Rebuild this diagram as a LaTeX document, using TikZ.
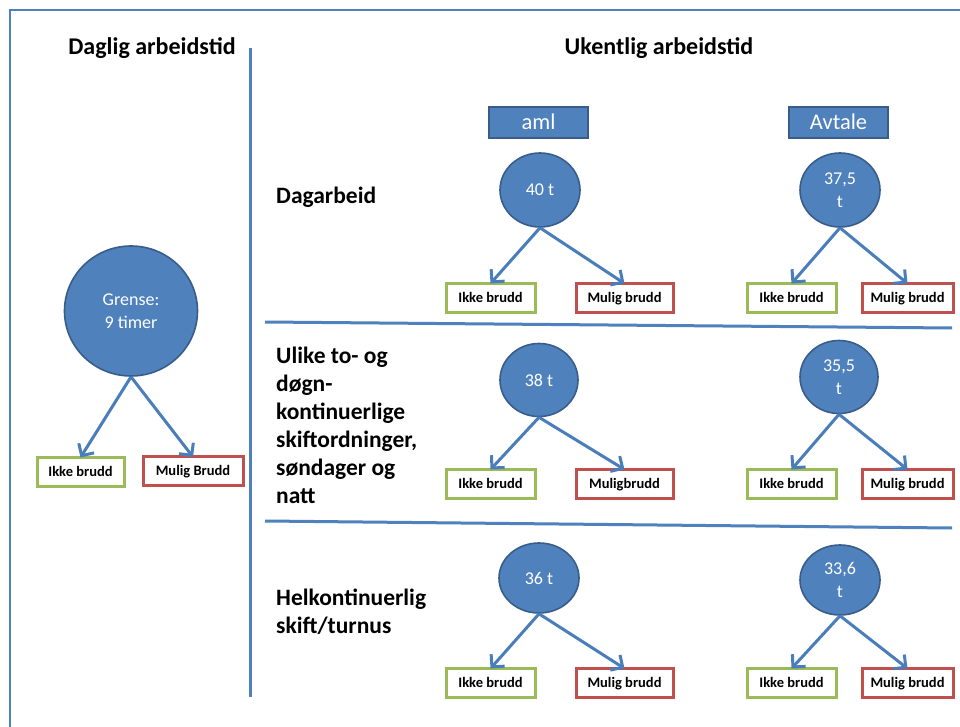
\documentclass[tikz,border=0pt]{standalone}
\usepackage{fontspec}
\setmainfont{Carlito}
\usetikzlibrary{shapes.geometric,arrows.meta}
\definecolor{fillblue}{HTML}{4F81BD}
\definecolor{darkblue}{HTML}{385D8A}
\definecolor{lineblue}{HTML}{4A7EBB}
\definecolor{okgreen}{HTML}{9BBB59}
\definecolor{badred}{HTML}{C0504D}
\tikzset{
  circ/.style={ellipse, fill=fillblue, draw=darkblue, line width=1.6pt, text=white,
    font=\fontsize{18}{23}\selectfont, inner sep=0pt, align=center},
  hdrbox/.style={rectangle, fill=fillblue, draw=darkblue, line width=1.6pt, text=white,
    minimum width=99pt, minimum height=31pt, inner sep=0pt, text height=15pt, text depth=1pt,
    font=\fontsize{22.5}{26}\selectfont},
  okbox/.style={rectangle, draw=okgreen, fill=white, line width=3pt, minimum height=29pt,
    inner sep=0pt, text height=12pt, text depth=3pt, font=\bfseries\fontsize{14.5}{17}\selectfont},
  badbox/.style={okbox, draw=badred},
  arr/.style={draw=lineblue, line width=3pt, -{Straight Barb[length=9pt,width=18pt,line width=3pt]}},
  title/.style={font=\bfseries\fontsize{24}{28}\selectfont, inner sep=0pt},
  rowlab/.style={font=\bfseries\fontsize{23.5}{28}\selectfont, inner sep=0pt, align=left, anchor=west},
  rule/.style={draw=fillblue, line width=3pt}
}
\begin{document}
\begin{tikzpicture}[x=1pt,y=-1pt]
\clip (0,0) rectangle (960,727);
\fill[white] (0,0) rectangle (960,727);
% frame
\draw[draw=fillblue, line width=2pt] (10,10) rectangle (990,760);
% dividers
\coordinate (v1) at (250,48);
\coordinate (v2) at (250,697);
\draw[rule] (v1) -- (v2);
\coordinate (h1a) at (265,322);
\coordinate (h1b) at (952,328);
\coordinate (h2a) at (265,521);
\coordinate (h2b) at (952,528);
\draw[rule] (h1a) -- (h1b);
\draw[rule] (h2a) -- (h2b);
% titles
\node[title] (tdag) at (152,48) {Daglig arbeidstid};
\node[title] (tuke) at (659,48) {Ukentlig arbeidstid};
% row labels
\node[rowlab] (r1) at (276,197) {Dagarbeid};
\node[rowlab] (r2) at (276,425) {Ulike to- og\\døgn-\\kontinuerlige\\skiftordninger,\\søndager og\\natt};
\node[rowlab] (r3) at (276,612) {Helkontinuerlig\\skift/turnus};
% header boxes
\node[hdrbox] (aml) at (538.5,122.5) {aml};
\node[hdrbox] (avt) at (838.5,122.5) {Avtale};
% left tree
\node[circ, minimum width=133pt, minimum height=130pt] (g) at (131,311) {Grense:\\9 timer};
\node[okbox, minimum width=87pt] (gok) at (80.5,471.5) {Ikke brudd};
\node[badbox, minimum width=100pt] (gbad) at (193,471) {Mulig Brudd};
\draw[arr] (g.south) -- ([yshift=-2pt]gok.north);
\draw[arr] (g.south) -- ([yshift=-2pt]gbad.north);
% row 1
\node[circ, minimum width=80pt, minimum height=74pt] (c1a) at (540,190) {40 t};
\node[circ, minimum width=80pt, minimum height=74pt] (c1b) at (840,190) {37,5\\t};
\node[okbox, minimum width=89pt] (o1a) at (490.5,297.5) {Ikke brudd};
\node[badbox, minimum width=97pt] (b1a) at (624.5,297.5) {Mulig brudd};
\node[okbox, minimum width=89pt] (o1b) at (791.5,297.5) {Ikke brudd};
\node[badbox, minimum width=91pt] (b1b) at (907.5,297.5) {Mulig brudd};
% row 2
\node[circ, minimum width=78pt, minimum height=73pt] (c2a) at (539,380) {38 t};
\node[circ, minimum width=78pt, minimum height=73pt] (c2b) at (839,377) {35,5\\t};
\node[okbox, minimum width=89pt] (o2a) at (490.5,483.5) {Ikke brudd};
\node[badbox, minimum width=97pt] (b2a) at (624.5,483.5) {Muligbrudd};
\node[okbox, minimum width=89pt] (o2b) at (791.5,483.5) {Ikke brudd};
\node[badbox, minimum width=91pt] (b2b) at (907.5,483.5) {Mulig brudd};
% row 3
\node[circ, minimum width=80pt, minimum height=70pt] (c3a) at (539,578) {36 t};
\node[circ, minimum width=80pt, minimum height=70pt] (c3b) at (840,580) {33,6\\t};
\node[okbox, minimum width=89pt] (o3a) at (490.5,682.5) {Ikke brudd};
\node[badbox, minimum width=97pt] (b3a) at (624.5,682.5) {Mulig brudd};
\node[okbox, minimum width=89pt] (o3b) at (791.5,682.5) {Ikke brudd};
\node[badbox, minimum width=91pt] (b3b) at (907.5,682.5) {Mulig brudd};
% arrows
\foreach \c/\o/\b in {c1a/o1a/b1a, c1b/o1b/b1b, c2a/o2a/b2a, c2b/o2b/b2b, c3a/o3a/b3a, c3b/o3b/b3b}{
  \draw[arr] (\c.south) -- ([yshift=-2pt]\o.north);
  \draw[arr] (\c.south) -- ([yshift=-2pt]\b.north);
}
\end{tikzpicture}
\end{document}
